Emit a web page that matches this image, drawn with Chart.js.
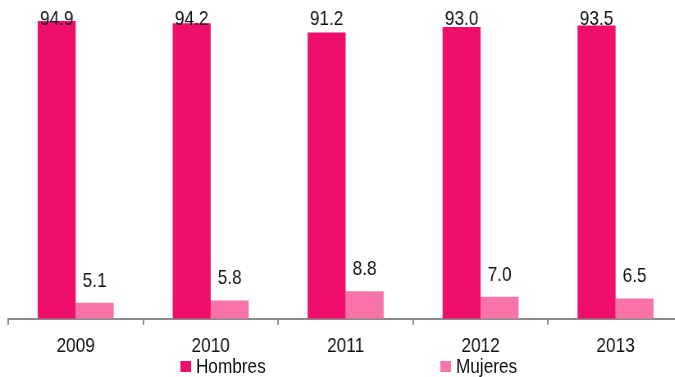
<!DOCTYPE html>
<html lang="es">
<head>
  <meta charset="UTF-8">
  <title>Hombres y Mujeres 2009-2013</title>
  <script src="https://cdn.jsdelivr.net/npm/chart.js"></script>
  <style>
    html, body {
      margin: 0;
      padding: 0;
      background: #fff;
      overflow: hidden;
      width: 675px;
      height: 377px;
    }
    /* the original uses a narrow face; no narrow font here, so squeeze the whole drawing */
    #wrap {
      position: relative;
      width: 842px;
      height: 377px;
      transform: scaleX(0.82);
      transform-origin: 0 0;
    }
    #legend {
      position: absolute;
      top: 354px;
      left: 0;
      width: 842px;
      height: 23px;
      font-family: "Liberation Sans", Arial, sans-serif;
      font-size: 21px;
      color: #111;
    }
    .item {
      position: absolute;
      top: 0;
      line-height: 23px;
      white-space: nowrap;
    }
    .box {
      display: inline-block;
      width: 13.4px;
      height: 11px;
      margin-right: 6px;
      vertical-align: 1px;
    }
  </style>
</head>
<body>
  <div id="wrap">
    <canvas id="graph" width="842" height="377"></canvas>
    <div id="legend"></div>
  </div>

  <script>
    const years = ['2009', '2010', '2011', '2012', '2013'];
    const hombres = [94.9, 94.2, 91.2, 93.0, 93.5];
    const mujeres = [5.1, 5.8, 8.8, 7.0, 6.5];
    const seriesNames = ['Hombres', 'Mujeres'];
    const seriesColors = ['#ef0f6b', '#f773a8'];
    const legendLeft = [219.5, 536.6];

    const fontFamily = '"Liberation Sans", Arial, sans-serif';

    // value labels above each bar (kept inside the top of the plot, like the original)
    const valueLabels = {
      id: 'valueLabels',
      afterDatasetsDraw(chart) {
        const c = chart.ctx;
        c.save();
        c.font = '21px ' + fontFamily;
        c.fillStyle = '#111';
        c.textAlign = 'center';
        c.textBaseline = 'middle';
        chart.data.datasets.forEach((ds, i) => {
          chart.getDatasetMeta(i).data.forEach((bar, j) => {
            const y = Math.max(bar.y - 22, 19);
            c.fillText(ds.data[j].toFixed(1), bar.x, y);
          });
        });
        c.restore();
      }
    };

    const ctx = document.getElementById('graph').getContext('2d');
    const chart = new Chart(ctx, {
      type: 'bar',
      data: {
        labels: years,
        datasets: [
          { label: seriesNames[0], data: hombres, backgroundColor: seriesColors[0] },
          { label: seriesNames[1], data: mujeres, backgroundColor: seriesColors[1] }
        ]
      },
      options: {
        responsive: false,
        animation: false,
        layout: { padding: { left: 10, right: 9, top: 5, bottom: 9 } },
        plugins: {
          legend: { display: false },
          tooltip: { enabled: false }
        },
        datasets: {
          bar: { barPercentage: 1, categoryPercentage: 0.563 }
        },
        scales: {
          x: {
            offset: true,
            grid: {
              offset: true,
              drawOnChartArea: false,
              drawTicks: true,
              tickLength: 6,
              color: '#8c8c8c',
              lineWidth: 2
            },
            border: { color: '#8c8c8c', width: 2 },
            ticks: {
              padding: 9,
              color: '#111',
              font: { family: fontFamily, size: 21 }
            }
          },
          y: {
            display: false,
            min: 0,
            max: 100
          }
        }
      },
      plugins: [valueLabels]
    });

    const legend = document.getElementById('legend');
    seriesNames.forEach((name, i) => {
      const item = document.createElement('span');
      item.className = 'item';
      item.style.left = legendLeft[i] + 'px';
      const box = document.createElement('span');
      box.className = 'box';
      box.style.background = seriesColors[i];
      item.appendChild(box);
      item.appendChild(document.createTextNode(name));
      legend.appendChild(item);
    });
  </script>
</body>
</html>
